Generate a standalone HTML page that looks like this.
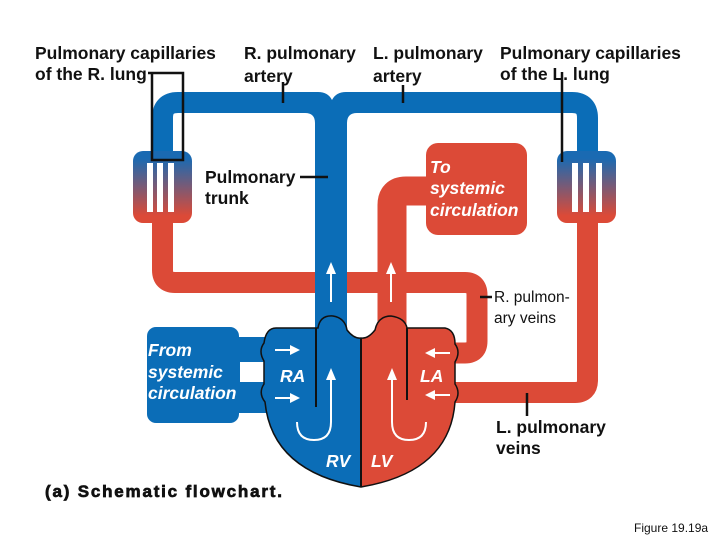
<!DOCTYPE html>
<html><head><meta charset="utf-8"><style>
body{margin:0;background:#fff}
svg{display:block}
text{font-family:"Liberation Sans",Arial,sans-serif}
.b{font-weight:bold;font-size:17.5px;fill:#111}
.w{font-weight:bold;font-style:italic;font-size:17.5px;fill:#fff}
</style></head><body>
<svg width="720" height="540" viewBox="0 0 720 540" xmlns="http://www.w3.org/2000/svg">
<defs>
<linearGradient id="g" x1="0" y1="0" x2="0" y2="1">
<stop offset="0.1" stop-color="#1a6ab2"/><stop offset="0.9" stop-color="#dc4a37"/>
</linearGradient>
<clipPath id="L"><rect x="0" y="0" width="361" height="540"/></clipPath>
<clipPath id="R"><rect x="361" y="0" width="360" height="540"/></clipPath>
</defs>
<g fill="none" stroke-linejoin="round">
<path d="M162.5 220 V270 Q162.5 282.5 175 282.5 H465 Q477 282.5 477 295 V341 Q477 353 465 353 H450" stroke="#dc4a37" stroke-width="21"/>
<path d="M587.5 220 V380 Q587.5 392.5 575 392.5 H450" stroke="#dc4a37" stroke-width="21"/>
<path d="M162.5 155 V118 Q162.5 102.5 178 102.5 H572 Q587.5 102.5 587.5 118 V155" stroke="#0b6db7" stroke-width="21"/>
<path d="M392 335 V205 Q392 191 406 191 H430" stroke="#dc4a37" stroke-width="29"/>
</g>
<path d="M318 92 Q328 92 332 100 Q336 92 346 92 Z" fill="#fff"/>
<rect x="315" y="100" width="32" height="235" fill="#0b6db7"/>
<path d="M305 113 Q315 113 315 123 V113 Z M357 113 Q347 113 347 123 V113 Z" fill="#0b6db7"/>
<rect x="426" y="143" width="101" height="92" rx="12" fill="#dc4a37"/>
<rect x="133" y="151" width="59" height="72" rx="10" fill="url(#g)"/>
<rect x="147" y="163" width="6" height="49" fill="#fff"/><rect x="157" y="163" width="6" height="49" fill="#fff"/><rect x="168" y="163" width="6" height="49" fill="#fff"/>
<rect x="557" y="151" width="59" height="72" rx="10" fill="url(#g)"/>
<rect x="572" y="163" width="6" height="49" fill="#fff"/><rect x="583" y="163" width="6" height="49" fill="#fff"/><rect x="596" y="163" width="6" height="49" fill="#fff"/>
<rect x="147" y="327" width="92" height="96" rx="9" fill="#0b6db7"/>
<rect x="236" y="337" width="34" height="76" fill="#0b6db7"/>
<rect x="240" y="362" width="30" height="20" fill="#fff"/>
<path d="M276 328 L318 328 Q320 315 333 316 Q345 318 347 330 Q354 339 361 338 Q368 339 375 330 Q378 316 391 316 Q405 318 407 328 L445 328 Q455 330 455 344 Q461 352 455 362 L455 384 Q461 393 455 402 Q450 472 361 487 Q272 472 265 402 Q258 393 264 384 L264 361 Q258 351 264 343 Q266 328 276 328 Z" fill="#0b6db7" clip-path="url(#L)"/>
<path d="M276 328 L318 328 Q320 315 333 316 Q345 318 347 330 Q354 339 361 338 Q368 339 375 330 Q378 316 391 316 Q405 318 407 328 L445 328 Q455 330 455 344 Q461 352 455 362 L455 384 Q461 393 455 402 Q450 472 361 487 Q272 472 265 402 Q258 393 264 384 L264 361 Q258 351 264 343 Q266 328 276 328 Z" fill="#dc4a37" clip-path="url(#R)"/>
<path d="M276 328 L318 328 Q320 315 333 316 Q345 318 347 330 Q354 339 361 338 Q368 339 375 330 Q378 316 391 316 Q405 318 407 328 L445 328 Q455 330 455 344 Q461 352 455 362 L455 384 Q461 393 455 402 Q450 472 361 487 Q272 472 265 402 Q258 393 264 384 L264 361 Q258 351 264 343 Q266 328 276 328 Z" fill="none" stroke="#111" stroke-width="1.5"/>
<g stroke="#111" stroke-width="2" fill="none">
<line x1="361" y1="338" x2="361" y2="487"/>
<line x1="316" y1="328" x2="316" y2="407"/>
<line x1="407" y1="328" x2="407" y2="400"/>
</g>
<g stroke="#fff" stroke-width="2" fill="none">
<line x1="331" y1="302" x2="331" y2="268"/><line x1="391" y1="302" x2="391" y2="268"/>
<line x1="275" y1="350" x2="294" y2="350"/><line x1="275" y1="398" x2="294" y2="398"/>
<line x1="450" y1="353" x2="431" y2="353"/><line x1="450" y1="395" x2="431" y2="395"/>
<path d="M297 422 Q297 440 314 440 Q331 440 331 422 V376"/>
<path d="M392 376 V422 Q392 440 409 440 Q426 440 426 422"/>
</g>
<g fill="#fff">
<path d="M331 262 L326 274 L336 274Z"/><path d="M391 262 L386 274 L396 274Z"/>
<path d="M300 350 L290 345 L290 355Z"/><path d="M300 398 L290 393 L290 403Z"/>
<path d="M425 353 L435 348 L435 358Z"/><path d="M425 395 L435 390 L435 400Z"/>
<path d="M331 368 L326 380 L336 380Z"/><path d="M392 368 L387 380 L397 380Z"/>
</g>
<g stroke="#111" stroke-width="2.5" fill="none">
<path d="M148 73 H183 V160 H152 V73"/>
<line x1="283" y1="82" x2="283" y2="103"/>
<line x1="403" y1="85" x2="403" y2="103"/>
<line x1="562" y1="72" x2="562" y2="162"/>
<line x1="300" y1="177" x2="328" y2="177"/>
<line x1="480" y1="297" x2="492" y2="297"/>
<line x1="527" y1="393" x2="527" y2="416"/>
</g>
<text class="b" x="35" y="59">Pulmonary capillaries</text>
<text class="b" x="35" y="80">of the R. lung</text>
<text class="b" x="244" y="59">R. pulmonary</text>
<text class="b" x="244" y="82">artery</text>
<text class="b" x="373" y="59">L. pulmonary</text>
<text class="b" x="373" y="82">artery</text>
<text class="b" x="500" y="59">Pulmonary capillaries</text>
<text class="b" x="500" y="80">of the L. lung</text>
<text class="b" x="205" y="183">Pulmonary</text>
<text class="b" x="205" y="204">trunk</text>
<text class="w" x="430" y="173">To</text>
<text class="w" x="430" y="194">systemic</text>
<text class="w" x="430" y="216">circulation</text>
<text x="494" y="302" font-size="15.5" fill="#111">R. pulmon-</text>
<text x="494" y="323" font-size="15.5" fill="#111">ary veins</text>
<text class="b" x="496" y="433">L. pulmonary</text>
<text class="b" x="496" y="454">veins</text>
<text class="w" x="148" y="356">From</text>
<text class="w" x="148" y="378">systemic</text>
<text class="w" x="148" y="399">circulation</text>
<text class="w" x="280" y="382">RA</text>
<text class="w" x="420" y="382">LA</text>
<text class="w" x="326" y="467">RV</text>
<text class="w" x="371" y="467">LV</text>
<text x="45" y="497" font-size="17" font-weight="bold" fill="#111" letter-spacing="1.8" stroke="#111" stroke-width="0.7">(a) Schematic flowchart.</text>
<text x="634" y="532" font-size="12" fill="#111">Figure 19.19a</text>
</svg>
</body></html>
